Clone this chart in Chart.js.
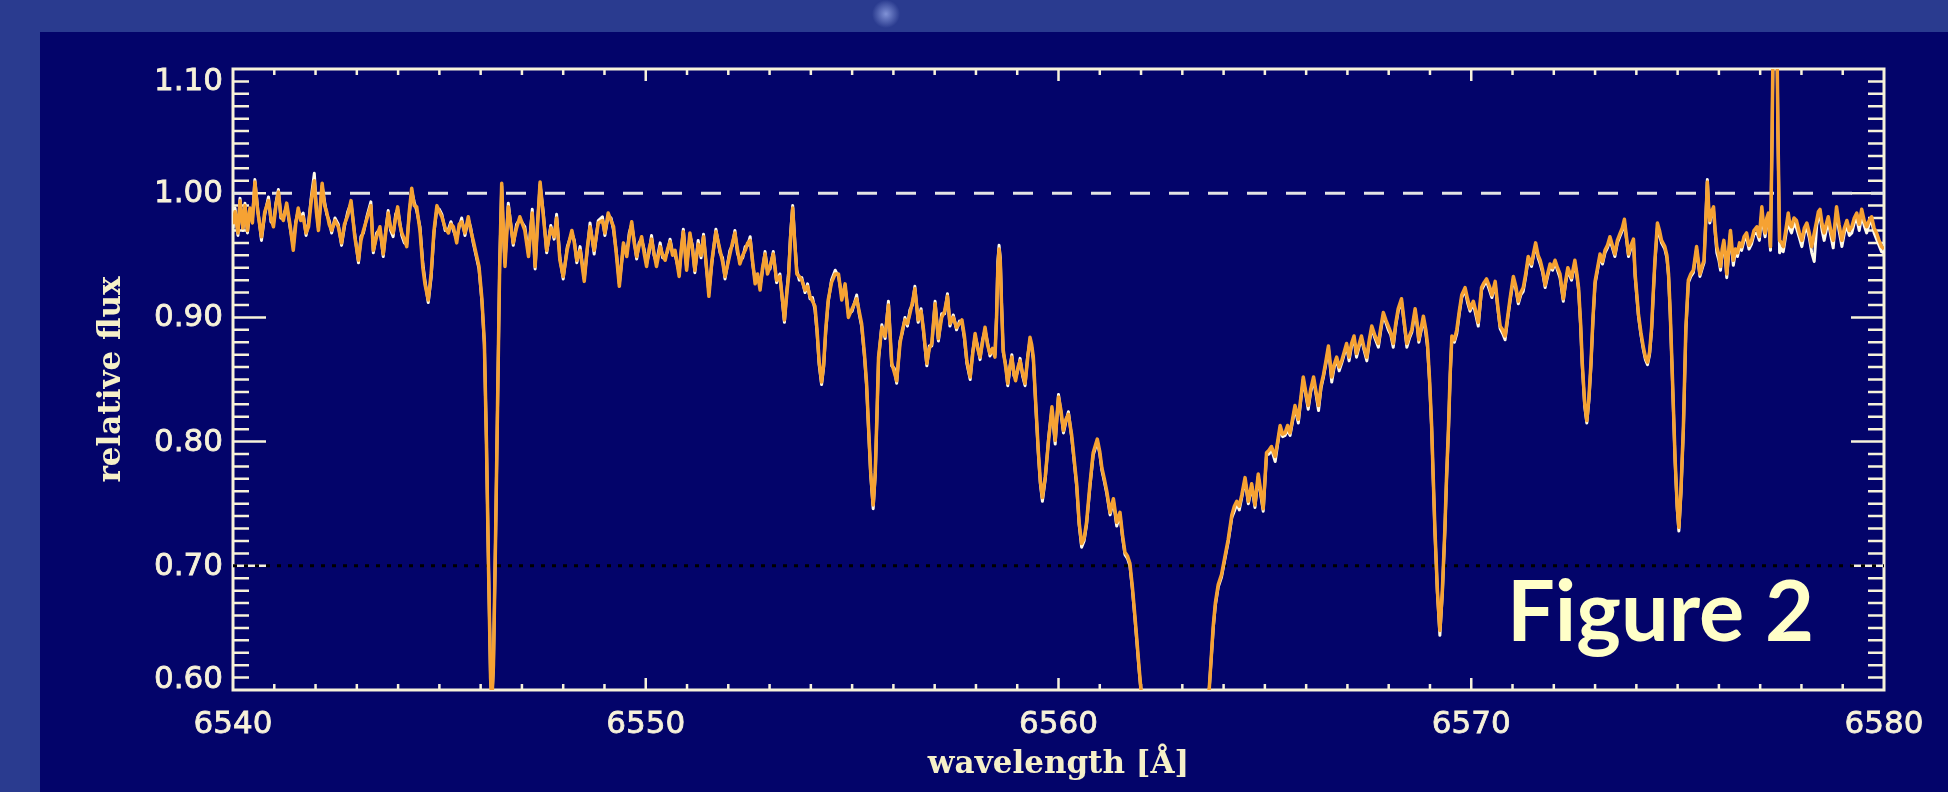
<!DOCTYPE html>
<html>
<head>
<meta charset="utf-8">
<title>relative flux</title>
<script src="https://cdn.jsdelivr.net/npm/chart.js@4.4.0/dist/chart.umd.min.js"></script>
<style>
  html, body { margin: 0; padding: 0; background: #2a3b8f; }
  canvas { display: block; }
</style>
</head>
<body>
<canvas id="spectrum" width="1948" height="792"></canvas>
<script>
// wavelength grid in Angstrom
const wavelength = [
  // 6540 - 6546.7
  6540.00, 6540.05, 6540.12, 6540.17, 6540.24, 6540.29, 6540.35, 6540.41,
  6540.47, 6540.53, 6540.60, 6540.69, 6540.77, 6540.86, 6540.92, 6540.98,
  6541.04, 6541.10, 6541.16, 6541.22, 6541.30, 6541.38, 6541.46, 6541.52,
  6541.58, 6541.64, 6541.70, 6541.77, 6541.83, 6541.90, 6541.97, 6542.02,
  6542.07, 6542.16, 6542.22, 6542.27, 6542.33, 6542.39, 6542.47, 6542.55,
  6542.63, 6542.70, 6542.78, 6542.86, 6542.95, 6543.04, 6543.10, 6543.16,
  6543.25, 6543.34, 6543.40, 6543.48, 6543.56, 6543.64, 6543.70, 6543.76,
  6543.82, 6543.88, 6543.94, 6543.99, 6544.04, 6544.09, 6544.15, 6544.21,
  6544.27, 6544.33, 6544.39, 6544.45, 6544.53, 6544.60, 6544.65, 6544.73,
  6544.80, 6544.87, 6544.94, 6545.00, 6545.06, 6545.14, 6545.22, 6545.28,
  6545.34, 6545.42, 6545.48, 6545.54, 6545.62, 6545.70, 6545.76, 6545.82,
  6545.90, 6545.96, 6546.03, 6546.09, 6546.14, 6546.19, 6546.24, 6546.27,
  6546.31, 6546.36, 6546.41, 6546.46, 6546.51, 6546.55, 6546.59, 6546.67,
  // 6546.8 - 6553.6
  6546.79, 6546.87, 6546.95, 6547.07, 6547.16, 6547.25, 6547.32, 6547.38,
  6547.44, 6547.52, 6547.60, 6547.70, 6547.78, 6547.84, 6547.92, 6548.00,
  6548.10, 6548.21, 6548.27, 6548.33, 6548.41, 6548.51, 6548.58, 6548.65,
  6548.75, 6548.85, 6548.95, 6549.01, 6549.09, 6549.16, 6549.22, 6549.29,
  6549.36, 6549.46, 6549.54, 6549.60, 6549.66, 6549.72, 6549.78, 6549.84,
  6549.90, 6549.96, 6550.02, 6550.08, 6550.14, 6550.20, 6550.26, 6550.35,
  6550.41, 6550.47, 6550.53, 6550.59, 6550.65, 6550.71, 6550.81, 6550.86,
  6550.91, 6550.99, 6551.07, 6551.13, 6551.19, 6551.27, 6551.34, 6551.40,
  6551.46, 6551.53, 6551.60, 6551.70, 6551.80, 6551.86, 6551.92, 6552.04,
  6552.10, 6552.16, 6552.22, 6552.28, 6552.35, 6552.41, 6552.47, 6552.53,
  6552.59, 6552.65, 6552.71, 6552.77, 6552.83, 6552.89, 6552.95, 6553.01,
  6553.09, 6553.17, 6553.25, 6553.31, 6553.36, 6553.42, 6553.46, 6553.51,
  6553.56,
  // 6553.6 - 6560.3
  6553.61, 6553.66, 6553.72, 6553.78, 6553.86, 6553.92, 6553.98, 6554.04,
  6554.10, 6554.15, 6554.20, 6554.26, 6554.31, 6554.36, 6554.42, 6554.50,
  6554.59, 6554.67, 6554.75, 6554.83, 6554.91, 6555.00, 6555.11, 6555.17,
  6555.23, 6555.30, 6555.35, 6555.40, 6555.45, 6555.51, 6555.56, 6555.60,
  6555.64, 6555.72, 6555.80, 6555.88, 6555.96, 6556.02, 6556.08, 6556.16,
  6556.22, 6556.28, 6556.34, 6556.40, 6556.46, 6556.52, 6556.60, 6556.67,
  6556.73, 6556.81, 6556.87, 6556.93, 6557.01, 6557.09, 6557.17, 6557.24,
  6557.31, 6557.37, 6557.45, 6557.53, 6557.60, 6557.66, 6557.72, 6557.78,
  6557.86, 6557.92, 6557.98, 6558.04, 6558.10, 6558.16, 6558.22, 6558.28,
  6558.34, 6558.40, 6558.46, 6558.50, 6558.53, 6558.56, 6558.59, 6558.62,
  6558.66, 6558.72, 6558.77, 6558.82, 6558.87, 6558.92, 6558.96, 6559.02,
  6559.07, 6559.13, 6559.19, 6559.25, 6559.31, 6559.35, 6559.39, 6559.45,
  6559.51, 6559.56, 6559.61, 6559.68, 6559.76, 6559.84, 6559.92, 6560.00,
  6560.06, 6560.12, 6560.18, 6560.24, 6560.32,
  // 6560.4 - 6567 (H-alpha core)
  6560.44, 6560.50, 6560.56, 6560.62, 6560.68, 6560.76, 6560.84, 6560.94,
  6561.00, 6561.05, 6561.11, 6561.17, 6561.25, 6561.33, 6561.41, 6561.49,
  6561.55, 6561.61, 6561.67, 6561.73, 6561.79, 6561.85, 6561.90, 6561.95,
  6562.05, 6562.20, 6562.50, 6562.85, 6563.20, 6563.50, 6563.65, 6563.75,
  6563.80, 6563.87, 6563.95, 6564.03, 6564.11, 6564.20, 6564.26, 6564.32,
  6564.38, 6564.44, 6564.52, 6564.60, 6564.68, 6564.76, 6564.84, 6564.90,
  6564.96, 6565.04, 6565.10, 6565.16, 6565.25, 6565.31, 6565.37, 6565.43,
  6565.49, 6565.55, 6565.61, 6565.67, 6565.73, 6565.81, 6565.87, 6565.93,
  6566.00, 6566.05, 6566.11, 6566.18, 6566.24, 6566.30, 6566.36, 6566.42,
  6566.48, 6566.54, 6566.62, 6566.68, 6566.74, 6566.80, 6566.86, 6566.92,
  6566.98, 6567.04,
  // 6567.1 - 6573.9
  6567.10, 6567.16, 6567.22, 6567.28, 6567.34, 6567.40, 6567.47, 6567.53,
  6567.59, 6567.67, 6567.75, 6567.81, 6567.87, 6567.93, 6567.99, 6568.05,
  6568.11, 6568.17, 6568.23, 6568.31, 6568.37, 6568.44, 6568.50, 6568.56,
  6568.64, 6568.69, 6568.73, 6568.79, 6568.84, 6568.90, 6568.94, 6568.99,
  6569.04, 6569.08, 6569.12, 6569.18, 6569.24, 6569.30, 6569.36, 6569.40,
  6569.45, 6569.49, 6569.53, 6569.59, 6569.65, 6569.71, 6569.77, 6569.85,
  6569.91, 6569.97, 6570.05, 6570.11, 6570.17, 6570.25, 6570.31, 6570.37,
  6570.44, 6570.50, 6570.58, 6570.64, 6570.70, 6570.76, 6570.82, 6570.88,
  6570.94, 6571.02, 6571.08, 6571.14, 6571.20, 6571.26, 6571.32, 6571.38,
  6571.46, 6571.51, 6571.56, 6571.62, 6571.67, 6571.73, 6571.79, 6571.85,
  6571.91, 6571.97, 6572.03, 6572.09, 6572.15, 6572.23, 6572.28, 6572.34,
  6572.43, 6572.51, 6572.56, 6572.60, 6572.65, 6572.69, 6572.75, 6572.80,
  6572.85, 6572.90, 6572.95, 6573.00, 6573.06, 6573.12, 6573.18, 6573.24,
  6573.30, 6573.36, 6573.42, 6573.48, 6573.54, 6573.61, 6573.66, 6573.71,
  6573.76, 6573.81, 6573.87, 6573.93,
  // 6574 - 6580
  6573.97, 6574.05, 6574.11, 6574.17, 6574.22, 6574.27, 6574.32, 6574.37,
  6574.41, 6574.45, 6574.51, 6574.56, 6574.61, 6574.69, 6574.74, 6574.78,
  6574.82, 6574.86, 6574.90, 6574.94, 6574.99, 6575.03, 6575.08, 6575.14,
  6575.20, 6575.26, 6575.32, 6575.38, 6575.46, 6575.54, 6575.60, 6575.64,
  6575.68, 6575.72, 6575.75, 6575.78, 6575.82, 6575.87, 6575.91, 6575.95,
  6576.00, 6576.04, 6576.08, 6576.12, 6576.16, 6576.19, 6576.24, 6576.28,
  6576.32, 6576.35, 6576.40, 6576.45, 6576.50, 6576.55, 6576.61, 6576.67,
  6576.73, 6576.79, 6576.85, 6576.92, 6576.98, 6577.04, 6577.08, 6577.12,
  6577.16, 6577.20, 6577.25, 6577.29, 6577.33, 6577.39, 6577.43, 6577.47,
  6577.52, 6577.56, 6577.62, 6577.68, 6577.72, 6577.76, 6577.82, 6577.88,
  6577.95, 6578.01, 6578.07, 6578.13, 6578.19, 6578.25, 6578.31, 6578.37,
  6578.41, 6578.45, 6578.50, 6578.55, 6578.60, 6578.65, 6578.71, 6578.77,
  6578.81, 6578.85, 6578.91, 6578.98, 6579.04, 6579.10, 6579.16, 6579.22,
  6579.28, 6579.34, 6579.40, 6579.46, 6579.52, 6579.58, 6579.64, 6579.70,
  6579.76, 6579.82, 6579.88, 6579.94, 6580.00,
]

// orange curve
const synthFlux = [
  0.975, 0.985, 0.968, 0.994, 0.972, 0.990, 0.970, 0.988,
  0.976, 1.009, 0.985, 0.965, 0.985, 0.994, 0.980, 0.973,
  0.990, 1.001, 0.982, 0.978, 0.992, 0.975, 0.954, 0.975,
  0.988, 0.978, 0.981, 0.968, 0.973, 0.995, 1.010, 0.985,
  0.970, 1.008, 0.990, 0.985, 0.975, 0.970, 0.978, 0.973,
  0.960, 0.975, 0.982, 0.994, 0.965, 0.946, 0.962, 0.970,
  0.980, 0.990, 0.954, 0.965, 0.973, 0.951, 0.968, 0.984,
  0.972, 0.968, 0.980, 0.989, 0.975, 0.968, 0.963, 0.957,
  0.985, 1.004, 0.990, 0.989, 0.970, 0.940, 0.927, 0.914,
  0.935, 0.970, 0.990, 0.985, 0.981, 0.972, 0.968, 0.975,
  0.973, 0.960, 0.975, 0.977, 0.968, 0.981, 0.970, 0.962,
  0.950, 0.941, 0.915, 0.880, 0.800, 0.700, 0.610, 0.590,
  0.620, 0.720, 0.830, 0.940, 1.008, 0.970, 0.941, 0.989,

  0.960, 0.972, 0.981, 0.970, 0.949, 0.984, 0.941, 0.975,
  1.009, 0.981, 0.954, 0.972, 0.965, 0.980, 0.946, 0.933,
  0.955, 0.970, 0.960, 0.946, 0.954, 0.929, 0.955, 0.973,
  0.954, 0.976, 0.978, 0.968, 0.984, 0.978, 0.973, 0.950,
  0.925, 0.960, 0.949, 0.965, 0.977, 0.960, 0.949, 0.958,
  0.965, 0.952, 0.941, 0.955, 0.963, 0.952, 0.941, 0.957,
  0.950, 0.946, 0.955, 0.961, 0.950, 0.954, 0.933, 0.955,
  0.969, 0.938, 0.968, 0.955, 0.938, 0.959, 0.950, 0.965,
  0.945, 0.917, 0.945, 0.969, 0.954, 0.945, 0.933, 0.951,
  0.960, 0.968, 0.955, 0.943, 0.950, 0.954, 0.960, 0.962,
  0.945, 0.927, 0.935, 0.922, 0.940, 0.951, 0.935, 0.941,
  0.951, 0.930, 0.933, 0.915, 0.898, 0.920, 0.933, 0.965,
  0.988,

  0.960, 0.935, 0.933, 0.930, 0.922, 0.925, 0.917, 0.913,
  0.909, 0.890, 0.865, 0.848, 0.862, 0.890, 0.914, 0.928,
  0.935, 0.935, 0.914, 0.927, 0.900, 0.907, 0.915, 0.905,
  0.895, 0.870, 0.847, 0.810, 0.775, 0.749, 0.775, 0.820,
  0.868, 0.892, 0.885, 0.910, 0.863, 0.856, 0.849, 0.879,
  0.890, 0.898, 0.895, 0.903, 0.912, 0.923, 0.898, 0.905,
  0.890, 0.863, 0.875, 0.879, 0.911, 0.883, 0.900, 0.905,
  0.917, 0.895, 0.900, 0.892, 0.895, 0.898, 0.885, 0.865,
  0.852, 0.870, 0.887, 0.875, 0.868, 0.880, 0.892, 0.878,
  0.871, 0.875, 0.868, 0.900, 0.940, 0.955, 0.945, 0.910,
  0.874, 0.860, 0.847, 0.860, 0.868, 0.855, 0.849, 0.860,
  0.865, 0.855, 0.847, 0.866, 0.884, 0.878, 0.868, 0.830,
  0.793, 0.768, 0.755, 0.772, 0.801, 0.828, 0.801, 0.836,
  0.825, 0.809, 0.818, 0.822, 0.805,

  0.766, 0.735, 0.718, 0.722, 0.735, 0.765, 0.791, 0.802,
  0.792, 0.779, 0.770, 0.760, 0.743, 0.754, 0.735, 0.743,
  0.725, 0.711, 0.708, 0.702, 0.683, 0.660, 0.640, 0.619,
  0.580, 0.530, 0.470, 0.450, 0.480, 0.550, 0.600, 0.652,
  0.670, 0.685, 0.693, 0.707, 0.721, 0.741, 0.748, 0.752,
  0.748, 0.757, 0.771, 0.752, 0.766, 0.749, 0.774, 0.760,
  0.746, 0.791, 0.793, 0.796, 0.788, 0.800, 0.813, 0.806,
  0.807, 0.813, 0.807, 0.818, 0.829, 0.818, 0.835, 0.852,
  0.838, 0.829, 0.842, 0.852, 0.840, 0.829, 0.845, 0.854,
  0.865, 0.877, 0.852, 0.862, 0.868, 0.860, 0.865, 0.872,
  0.879, 0.868,

  0.879, 0.885, 0.871, 0.878, 0.885, 0.876, 0.868, 0.882,
  0.893, 0.885, 0.879, 0.892, 0.904, 0.898, 0.893, 0.888,
  0.879, 0.895, 0.907, 0.915, 0.898, 0.879, 0.885, 0.890,
  0.907, 0.895, 0.882, 0.892, 0.901, 0.890, 0.879, 0.850,
  0.813, 0.770, 0.729, 0.680, 0.648, 0.680, 0.729, 0.770,
  0.813, 0.855, 0.885, 0.882, 0.890, 0.905, 0.918, 0.924,
  0.915, 0.907, 0.913, 0.905, 0.896, 0.924, 0.928, 0.931,
  0.925, 0.918, 0.929, 0.910, 0.893, 0.890, 0.885, 0.900,
  0.915, 0.933, 0.925, 0.913, 0.920, 0.924, 0.935, 0.949,
  0.943, 0.952, 0.960, 0.950, 0.946, 0.938, 0.926, 0.935,
  0.943, 0.940, 0.946, 0.940, 0.935, 0.915, 0.928, 0.940,
  0.932, 0.946, 0.935, 0.924, 0.895, 0.863, 0.830, 0.817,
  0.835, 0.863, 0.900, 0.929, 0.940, 0.951, 0.945, 0.954,
  0.958, 0.965, 0.958, 0.951, 0.962, 0.968, 0.972, 0.979,
  0.965, 0.951, 0.958, 0.963,

  0.935, 0.903, 0.888, 0.876, 0.868, 0.864, 0.872, 0.892,
  0.920, 0.946, 0.976, 0.970, 0.962, 0.957, 0.950, 0.935,
  0.905, 0.866, 0.825, 0.785, 0.748, 0.731, 0.760, 0.812,
  0.892, 0.930, 0.935, 0.938, 0.957, 0.935, 0.942, 0.946,
  0.975, 1.009, 0.990, 0.978, 0.985, 0.989, 0.970, 0.957,
  0.950, 0.941, 0.955, 0.962, 0.950, 0.935, 0.955, 0.970,
  0.955, 0.946, 0.955, 0.952, 0.960, 0.957, 0.965, 0.968,
  0.958, 0.962, 0.970, 0.973, 0.965, 0.989, 0.975, 0.968,
  0.980, 0.984, 0.957, 1.050, 1.180, 1.180, 1.050, 0.962,
  0.960, 0.957, 0.970, 0.984, 0.975, 0.973, 0.980, 0.978,
  0.968, 0.962, 0.972, 0.976, 0.968, 0.957, 0.968, 0.978,
  0.985, 0.987, 0.975, 0.968, 0.975, 0.981, 0.970, 0.962,
  0.975, 0.989, 0.975, 0.962, 0.972, 0.978, 0.970, 0.973,
  0.980, 0.984, 0.975, 0.987, 0.978, 0.973, 0.978, 0.981,
  0.972, 0.968, 0.962, 0.957, 0.955,
]

// white curve underneath
const obsFlux = [
  0.972, 0.988, 0.966, 0.996, 0.970, 0.992, 0.968, 0.986,
  0.978, 1.011, 0.987, 0.962, 0.983, 0.997, 0.977, 0.975,
  0.992, 1.003, 0.980, 0.981, 0.990, 0.973, 0.957, 0.977,
  0.986, 0.981, 0.984, 0.966, 0.976, 0.998, 1.016, 0.988,
  0.972, 1.006, 0.993, 0.983, 0.978, 0.968, 0.980, 0.975,
  0.958, 0.973, 0.985, 0.992, 0.967, 0.944, 0.965, 0.968,
  0.982, 0.993, 0.952, 0.968, 0.971, 0.949, 0.970, 0.986,
  0.970, 0.965, 0.983, 0.987, 0.977, 0.966, 0.960, 0.959,
  0.983, 1.002, 0.993, 0.986, 0.973, 0.943, 0.930, 0.912,
  0.932, 0.968, 0.988, 0.987, 0.983, 0.970, 0.971, 0.977,
  0.970, 0.963, 0.973, 0.980, 0.966, 0.979, 0.972, 0.960,
  0.948, 0.939, 0.913, 0.878, 0.800, 0.700, 0.610, 0.590,
  0.620, 0.720, 0.830, 0.940, 1.006, 0.968, 0.944, 0.992,

  0.958, 0.975, 0.979, 0.973, 0.951, 0.987, 0.939, 0.977,
  1.007, 0.984, 0.952, 0.974, 0.963, 0.983, 0.948, 0.931,
  0.957, 0.968, 0.962, 0.944, 0.957, 0.931, 0.953, 0.976,
  0.951, 0.978, 0.981, 0.966, 0.982, 0.980, 0.970, 0.952,
  0.927, 0.958, 0.951, 0.968, 0.975, 0.962, 0.947, 0.960,
  0.963, 0.955, 0.943, 0.952, 0.966, 0.950, 0.944, 0.960,
  0.948, 0.949, 0.953, 0.963, 0.952, 0.951, 0.936, 0.953,
  0.971, 0.940, 0.966, 0.958, 0.936, 0.962, 0.948, 0.967,
  0.943, 0.920, 0.943, 0.971, 0.952, 0.948, 0.931, 0.954,
  0.958, 0.970, 0.952, 0.946, 0.948, 0.957, 0.958, 0.965,
  0.943, 0.930, 0.933, 0.925, 0.938, 0.953, 0.938, 0.939,
  0.953, 0.928, 0.935, 0.913, 0.896, 0.922, 0.936, 0.968,
  0.990,

  0.962, 0.938, 0.930, 0.932, 0.920, 0.927, 0.915, 0.916,
  0.906, 0.888, 0.862, 0.846, 0.860, 0.888, 0.912, 0.930,
  0.938, 0.933, 0.917, 0.925, 0.903, 0.905, 0.918, 0.903,
  0.893, 0.868, 0.845, 0.808, 0.773, 0.746, 0.773, 0.818,
  0.866, 0.894, 0.883, 0.913, 0.861, 0.859, 0.847, 0.881,
  0.888, 0.900, 0.893, 0.906, 0.910, 0.925, 0.896, 0.907,
  0.888, 0.861, 0.877, 0.877, 0.913, 0.881, 0.903, 0.903,
  0.919, 0.893, 0.902, 0.890, 0.897, 0.896, 0.883, 0.863,
  0.850, 0.872, 0.885, 0.877, 0.866, 0.882, 0.890, 0.880,
  0.869, 0.873, 0.870, 0.902, 0.945, 0.958, 0.948, 0.912,
  0.872, 0.862, 0.845, 0.858, 0.870, 0.853, 0.851, 0.858,
  0.867, 0.853, 0.845, 0.868, 0.882, 0.876, 0.866, 0.828,
  0.791, 0.766, 0.752, 0.770, 0.803, 0.826, 0.798, 0.838,
  0.823, 0.807, 0.816, 0.824, 0.803,

  0.764, 0.733, 0.715, 0.720, 0.733, 0.763, 0.789, 0.800,
  0.790, 0.777, 0.768, 0.758, 0.741, 0.752, 0.732, 0.741,
  0.723, 0.709, 0.706, 0.700, 0.681, 0.658, 0.638, 0.617,
  0.580, 0.530, 0.470, 0.450, 0.480, 0.550, 0.600, 0.650,
  0.668, 0.683, 0.691, 0.705, 0.719, 0.739, 0.744, 0.750,
  0.745, 0.755, 0.769, 0.750, 0.764, 0.747, 0.772, 0.757,
  0.744, 0.789, 0.790, 0.794, 0.784, 0.798, 0.811, 0.804,
  0.805, 0.809, 0.805, 0.816, 0.827, 0.815, 0.833, 0.850,
  0.836, 0.826, 0.840, 0.850, 0.838, 0.825, 0.843, 0.852,
  0.863, 0.875, 0.848, 0.860, 0.866, 0.857, 0.863, 0.870,
  0.877, 0.865,

  0.877, 0.883, 0.868, 0.876, 0.883, 0.874, 0.865, 0.880,
  0.891, 0.883, 0.876, 0.890, 0.902, 0.896, 0.890, 0.886,
  0.876, 0.893, 0.905, 0.913, 0.896, 0.876, 0.883, 0.888,
  0.905, 0.893, 0.880, 0.890, 0.899, 0.887, 0.876, 0.848,
  0.811, 0.768, 0.727, 0.678, 0.644, 0.678, 0.727, 0.768,
  0.811, 0.853, 0.883, 0.880, 0.887, 0.903, 0.916, 0.922,
  0.912, 0.905, 0.911, 0.902, 0.893, 0.922, 0.926, 0.929,
  0.922, 0.916, 0.927, 0.908, 0.891, 0.887, 0.882, 0.898,
  0.913, 0.931, 0.923, 0.911, 0.918, 0.921, 0.933, 0.947,
  0.941, 0.950, 0.958, 0.948, 0.943, 0.936, 0.924, 0.933,
  0.941, 0.938, 0.944, 0.938, 0.932, 0.913, 0.926, 0.938,
  0.930, 0.944, 0.933, 0.922, 0.893, 0.861, 0.828, 0.815,
  0.833, 0.861, 0.898, 0.927, 0.938, 0.949, 0.943, 0.952,
  0.956, 0.962, 0.956, 0.949, 0.960, 0.966, 0.970, 0.977,
  0.963, 0.949, 0.956, 0.961,

  0.933, 0.901, 0.886, 0.874, 0.866, 0.862, 0.870, 0.890,
  0.918, 0.944, 0.972, 0.966, 0.960, 0.955, 0.948, 0.933,
  0.903, 0.864, 0.823, 0.783, 0.746, 0.728, 0.758, 0.810,
  0.890, 0.928, 0.933, 0.936, 0.955, 0.933, 0.940, 0.944,
  0.978, 1.011, 0.988, 0.976, 0.983, 0.986, 0.968, 0.952,
  0.946, 0.938, 0.952, 0.960, 0.946, 0.932, 0.952, 0.968,
  0.952, 0.942, 0.953, 0.949, 0.957, 0.954, 0.962, 0.964,
  0.955, 0.959, 0.967, 0.968, 0.962, 0.985, 0.972, 0.965,
  0.977, 0.981, 0.954, 1.050, 1.180, 1.180, 1.050, 0.952,
  0.956, 0.953, 0.966, 0.980, 0.971, 0.968, 0.976, 0.972,
  0.964, 0.957, 0.968, 0.972, 0.964, 0.952, 0.945, 0.974,
  0.980, 0.983, 0.970, 0.962, 0.970, 0.977, 0.966, 0.956,
  0.972, 0.985, 0.970, 0.957, 0.968, 0.974, 0.966, 0.968,
  0.976, 0.979, 0.970, 0.982, 0.974, 0.968, 0.975, 0.977,
  0.968, 0.963, 0.958, 0.953, 0.952,
]

const xTickLabels = ['6540', '6550', '6560', '6570', '6580']
const yTickValues = [0.6, 0.7, 0.8, 0.9, 1.0, 1.1]
const yTickLabels = ['0.60', '0.70', '0.80', '0.90', '1.00', '1.10']
const continuumLevel = 1.0
const markerLevel = 0.7
const figureLabel = 'Figure 2'

const cream = '#f7f2da'


const idlFrame = {
    id: 'idlFrame',
    beforeDraw(chart) {
        const {ctx, width, height} = chart
        ctx.save()
        ctx.fillStyle = '#2a3b8f'
        ctx.fillRect(0, 0, width, height)
        // little blurred blob in the slide background
        const glow = ctx.createRadialGradient(886, 14, 0, 886, 14, 14)
        glow.addColorStop(0, 'rgba(150,168,232,0.8)')
        glow.addColorStop(1, 'rgba(150,168,232,0)')
        ctx.fillStyle = glow
        ctx.fillRect(866, 0, 40, 32)
        ctx.fillStyle = '#03046a'
        ctx.fillRect(40, 32, width - 40, height - 32)
        ctx.restore()
    },
    beforeDatasetsDraw(chart) {
        const {ctx, chartArea: a, scales: {x, y}} = chart
        ctx.save()
        ctx.strokeStyle = cream
        ctx.lineWidth = 2.5
        ctx.beginPath()
        // x ticks every 1 A, long every 10 A, pointing inward
        for (let w = x.min + 1; w < x.max; w++) {
            const px = x.getPixelForValue(w)
            const len = w % 10 === 0 ? 12 : 6
            ctx.moveTo(px, a.bottom)
            ctx.lineTo(px, a.bottom - len)
            ctx.moveTo(px, a.top)
            ctx.lineTo(px, a.top + len)
        }
        // y ticks every 0.01, long every 0.1
        for (let k = Math.round(y.min * 100) + 1; k < Math.round(y.max * 100); k++) {
            const py = y.getPixelForValue(k / 100)
            const len = k % 10 === 0 ? 33 : 16
            ctx.moveTo(a.left, py)
            ctx.lineTo(a.left + len, py)
            ctx.moveTo(a.right, py)
            ctx.lineTo(a.right - len, py)
        }
        ctx.stroke()
        ctx.lineWidth = 3
        ctx.strokeRect(a.left, a.top, a.right - a.left, a.bottom - a.top)
        ctx.restore()
    },
    afterDraw(chart) {
        const {ctx, chartArea: a, scales: {y}} = chart
        ctx.save()
        ctx.fillStyle = cream
        ctx.strokeStyle = cream
        ctx.lineWidth = 0.8
        ctx.font = '31px "DejaVu Sans"'
        ctx.textAlign = 'right'
        ctx.textBaseline = 'middle'
        yTickValues.forEach((v, i) => {
            let py = y.getPixelForValue(v)
            py = Math.min(Math.max(py, a.top + 12), a.bottom - 11)
            ctx.fillText(yTickLabels[i], a.left - 10, py + 1)
            ctx.strokeText(yTickLabels[i], a.left - 10, py + 1)
        })

        ctx.fillStyle = '#ffffc8'
        ctx.font = 'bold 84px Lato'
        ctx.textAlign = 'left'
        ctx.textBaseline = 'alphabetic'
        const w = ctx.measureText(figureLabel).width
        ctx.translate(a.right - 377, a.bottom - 49)
        ctx.scale(307 / w, 1)
        ctx.fillText(figureLabel, 0, 0)
        ctx.restore()
    }
}


const toPoints = (ys) => wavelength.map((x, i) => ({x: x, y: ys[i]}))

const spectrumChart = new Chart(document.getElementById('spectrum'), {
    type: 'line',
    data: {
        datasets: [
            {
                label: 'synthetic',
                data: toPoints(synthFlux),
                borderColor: '#f6a233',
                borderWidth: 3.5,
                order: 0,
            },
            {
                label: 'observed',
                data: toPoints(obsFlux),
                borderColor: '#fffbe8',
                borderWidth: 3,
                order: 1,
            },
            {
                label: 'continuum',
                data: [{x: 6540, y: continuumLevel}, {x: 6580, y: continuumLevel}],
                borderColor: '#e4e4e4',
                borderWidth: 3,
                borderDash: [20, 19],
                order: 2,
            },
            {
                label: 'marker',
                data: [{x: 6540, y: markerLevel}, {x: 6580, y: markerLevel}],
                borderColor: '#000000',
                borderWidth: 3,
                borderDash: [4, 7],
                order: 3,
            },
        ]
    },
    options: {
        responsive: false,
        animation: false,
        devicePixelRatio: 1,
        layout: {
            padding: {left: 0, right: 64, top: 69, bottom: 0},
        },
        plugins: {
            legend: {display: false},
            tooltip: {enabled: false},
        },
        elements: {
            point: {radius: 0},
            line: {tension: 0, borderJoinStyle: 'round', borderCapStyle: 'butt'},
        },
        scales: {
            x: {
                type: 'linear',
                min: 6540,
                max: 6580,
                grid: {display: false, drawTicks: false},
                border: {display: false},
                ticks: {
                    stepSize: 10,
                    padding: 16,
                    color: cream,
                    textStrokeColor: cream,
                    textStrokeWidth: 0.8,
                    font: {family: 'DejaVu Sans', size: 31},
                    callback: (v, i) => xTickLabels[i],
                },
                title: {
                    display: true,
                    text: 'wavelength [Å]',
                    color: '#f6f0c8',
                    font: {family: 'DejaVu Serif', size: 31, weight: 'bold'},
                    padding: {top: 0, bottom: 8},
                },
                afterFit: (s) => { s.height = 102 },
            },
            y: {
                min: 0.6,
                max: 1.1,
                grid: {display: false, drawTicks: false},
                border: {display: false},
                ticks: {display: false, stepSize: 0.1},
                title: {
                    display: true,
                    text: 'relative flux',
                    color: '#f6f0c8',
                    font: {family: 'DejaVu Serif', size: 31, weight: 'bold'},
                    padding: {top: 93, bottom: 0},
                },
                afterFit: (s) => { s.width = 233 },
            },
        },
    },
    plugins: [idlFrame],
})
</script>
</body>
</html>
